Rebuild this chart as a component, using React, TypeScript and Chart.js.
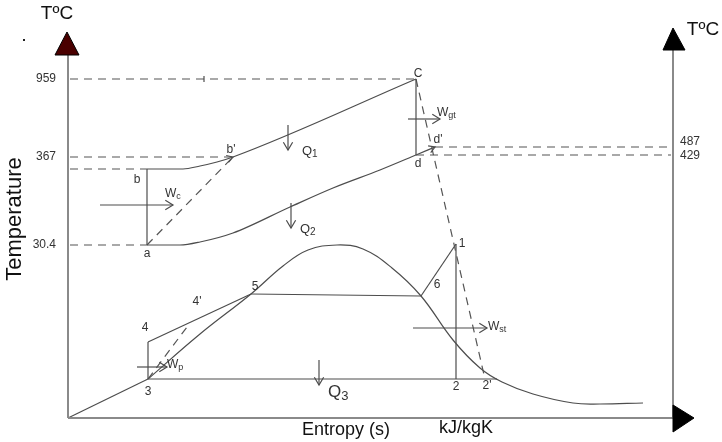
import { useEffect, useRef } from 'react';
import { Chart, registerables } from 'chart.js';

Chart.register(...registerables);

type Pt = [number, number];

const FONT = "Arial, 'Liberation Sans', sans-serif";
const LINE = '#4d4d4d';
const AXIS = '#8a8a8a';

// Schematic s–T plane (entropy across, temperature up)
const S_MIN = -6.8;
const S_MAX = 65.4;
const T_MIN = -2.4;
const T_MAX = 41.8;

// Frame: left and right temperature axes, entropy axis
const leftAxis: Pt[] = [[0, 0], [0, 36.3]];
const rightAxis: Pt[] = [[60.5, 0], [60.5, 36.8]];
const entropyAxis: Pt[] = [[0, 0], [60.5, 0]];
const leftAxisHead: Pt[] = [[-0.1, 38.6], [-1.3, 36.3], [1.1, 36.3]];
const rightAxisHead: Pt[] = [[60.5, 39.0], [59.5, 36.8], [61.7, 36.8]];
const entropyAxisHead: Pt[] = [[60.5, 1.3], [60.5, -1.4], [62.6, 0]];

// Gas turbine (Brayton) cycle a-b-C-d
const gasHeatAddition: Pt[] = [[7.9, 24.9], [11.5, 24.9], [13.2, 25.2], [14.9, 25.6], [16.5, 26.1], [34.8, 33.9]];
const gasHeatRejection: Pt[] = [[7.9, 17.3], [11.2, 17.3], [13.2, 17.6], [16.5, 18.5], [22.2, 21.1], [26.5, 23.0], [31.2, 24.8], [34.8, 26.3], [36.7, 27.1]];
const gasCompression: Pt[] = [[7.9, 17.3], [7.9, 24.9]];
const gasExpansion: Pt[] = [[34.8, 33.9], [34.8, 26.3]];
const gasRealCompression: Pt[] = [[7.9, 17.3], [16.5, 26.1]];
const realExpansionLine: Pt[] = [[34.8, 33.9], [41.7, 3.9]];

// Steam (Rankine) cycle 1-2-3-4-5-6 and the saturation dome
const liquidLine: Pt[] = [[0, 0], [8.0, 3.9]];
const saturationDome: Pt[] = [[8.0, 3.9], [13.2, 8.4], [18.3, 12.4], [21.5, 15.2], [24.0, 16.8], [26.9, 17.3], [29.5, 16.9], [32.4, 15.0], [35.3, 12.2], [38.5, 7.8], [41.2, 5.0], [43.4, 3.6], [46.5, 2.4], [50.5, 1.5], [53.2, 1.4], [57.5, 1.5]];
const condensation: Pt[] = [[8.0, 3.9], [42.9, 3.9]];
const pumping: Pt[] = [[8.0, 3.9], [8.0, 7.6]];
const feedHeating: Pt[] = [[8.0, 7.6], [18.3, 12.4]];
const evaporation: Pt[] = [[18.3, 12.4], [35.3, 12.2]];
const superheating: Pt[] = [[35.3, 12.2], [38.8, 17.4]];
const steamExpansion: Pt[] = [[38.8, 17.4], [38.8, 3.9]];
const realPumping: Pt[] = [[8.0, 3.9], [12.2, 9.5]];

// Temperature guide lines and their tick labels
const leftTickLabels = ['959', '367', '30.4'];
const leftTickValues = [33.9, 26.1, 17.3];
const leftGuideEnds = [34.8, 16.5, 7.9];
const extraGuideT = 24.9;
const extraGuideEnd = 7.9;
const rightTickLabels = ['487', '429'];
const rightTickValues = [27.1, 26.3];
const rightGuideStarts = [36.7, 34.8];

// Work and heat arrows
const arrows: { from: Pt; to: Pt }[] = [
  { from: [3.2, 21.3], to: [10.5, 21.3] },   // Wc
  { from: [34.0, 29.9], to: [37.2, 29.9] },  // Wgt
  { from: [6.9, 5.1], to: [9.9, 5.1] },      // Wp
  { from: [34.5, 9.0], to: [41.9, 9.0] },    // Wst
  { from: [22.0, 29.3], to: [22.0, 26.8] },  // Q1
  { from: [22.3, 21.5], to: [22.3, 19.0] },  // Q2
  { from: [25.1, 5.8], to: [25.1, 3.3] },    // Q3
];
const curveHeads: { from: Pt; to: Pt }[] = [
  { from: [15.0, 25.6], to: [16.5, 26.1] },
  { from: [35.4, 26.6], to: [36.7, 27.1] },
];

const stateLabels: { text: string; s: number; T: number }[] = [
  { text: 'a', s: 7.9, T: 16.4 },
  { text: 'b', s: 6.9, T: 23.8 },
  { text: "b'", s: 16.3, T: 26.8 },
  { text: 'C', s: 35.0, T: 34.4 },
  { text: 'd', s: 35.0, T: 25.4 },
  { text: "d'", s: 37.0, T: 27.8 },
  { text: '1', s: 39.4, T: 17.4 },
  { text: '2', s: 38.8, T: 3.1 },
  { text: "2'", s: 41.9, T: 3.2 },
  { text: '3', s: 8.0, T: 2.6 },
  { text: '4', s: 7.7, T: 9.0 },
  { text: "4'", s: 12.9, T: 11.6 },
  { text: '5', s: 18.7, T: 13.1 },
  { text: '6', s: 36.9, T: 13.3 },
];

const subLabels: { main: string; sub: string; s: number; T: number; size: number }[] = [
  { main: 'W', sub: 'c', s: 9.7, T: 22.4, size: 12 },
  { main: 'W', sub: 'gt', s: 36.9, T: 30.5, size: 12 },
  { main: 'W', sub: 'p', s: 9.9, T: 5.3, size: 12 },
  { main: 'W', sub: 'st', s: 42.0, T: 9.1, size: 12 },
  { main: 'Q', sub: '1', s: 23.4, T: 26.7, size: 13 },
  { main: 'Q', sub: '2', s: 23.2, T: 18.9, size: 13 },
  { main: 'Q', sub: '3', s: 26.0, T: 2.6, size: 17 },
];

const toXY = (pts: Pt[]) => pts.map(([x, y]) => ({ x, y }));

type Shape = 'straight' | 'monotone' | 'smooth';

const solid = (pts: Pt[], shape: Shape = 'straight', color = LINE, width = 1.2) => ({
  data: toXY(pts),
  showLine: true,
  borderColor: color,
  borderWidth: width,
  pointRadius: 0,
  cubicInterpolationMode: shape === 'monotone' ? ('monotone' as const) : ('default' as const),
  tension: shape === 'smooth' ? 0.4 : 0,
  fill: false,
});

const dashed = (pts: Pt[]) => ({ ...solid(pts, 'straight', '#555', 1.2), borderDash: [8, 6] });

const diagramPlugin = {
  id: 'tsDiagram',
  afterDatasetsDraw(chart: any) {
    const { ctx } = chart;
    const xs = chart.scales.x;
    const ys = chart.scales.y;
    const px = (s: number) => xs.getPixelForValue(s);
    const py = (t: number) => ys.getPixelForValue(t);
    ctx.save();

    const tri = (pts: Pt[], fillColor: string) => {
      ctx.beginPath();
      pts.forEach(([s, t], i) => (i ? ctx.lineTo(px(s), py(t)) : ctx.moveTo(px(s), py(t))));
      ctx.closePath();
      ctx.fillStyle = fillColor;
      ctx.fill();
      ctx.strokeStyle = '#000';
      ctx.lineWidth = 1;
      ctx.stroke();
    };
    tri(leftAxisHead, '#4a0000');
    tri(rightAxisHead, '#000');
    tri(entropyAxisHead, '#000');

    const head = (a: Pt, b: Pt, len: number) => {
      const x1 = px(a[0]), y1 = py(a[1]), x2 = px(b[0]), y2 = py(b[1]);
      const ang = Math.atan2(y2 - y1, x2 - x1);
      ctx.beginPath();
      ctx.moveTo(x2 + len * Math.cos(ang + 2.6), y2 + len * Math.sin(ang + 2.6));
      ctx.lineTo(x2, y2);
      ctx.lineTo(x2 + len * Math.cos(ang - 2.6), y2 + len * Math.sin(ang - 2.6));
      ctx.stroke();
    };
    ctx.strokeStyle = LINE;
    ctx.lineWidth = 1.2;
    arrows.forEach(({ from, to }) => {
      ctx.beginPath();
      ctx.moveTo(px(from[0]), py(from[1]));
      ctx.lineTo(px(to[0]), py(to[1]));
      ctx.stroke();
      head(from, to, 9);
    });
    curveHeads.forEach(({ from, to }) => head(from, to, 7));

    // small tick on the 959 guide
    ctx.beginPath();
    ctx.moveTo(px(13.6), py(33.9) - 3);
    ctx.lineTo(px(13.6), py(33.9) + 3);
    ctx.stroke();

    // marker dot near the left axis title
    ctx.fillStyle = '#222';
    ctx.fillRect(px(-4.4) - 1, py(37.8) - 1, 2, 2);

    ctx.textBaseline = 'middle';
    ctx.fillStyle = '#333';
    ctx.font = `12px ${FONT}`;
    ctx.textAlign = 'right';
    leftTickLabels.forEach((l, i) => ctx.fillText(l, px(-1.2), py(leftTickValues[i])));
    ctx.textAlign = 'left';
    ctx.fillText(rightTickLabels[0], px(61.2), py(rightTickValues[0]) - 5);
    ctx.fillText(rightTickLabels[1], px(61.2), py(rightTickValues[1]) + 1);

    ctx.textAlign = 'center';
    stateLabels.forEach(({ text, s, T }) => ctx.fillText(text, px(s), py(T)));

    subLabels.forEach(({ main, sub, s, T, size }) => {
      ctx.textAlign = 'left';
      ctx.font = `${size}px ${FONT}`;
      const x = px(s), y = py(T);
      ctx.fillText(main, x, y);
      const w = ctx.measureText(main).width;
      ctx.font = `${Math.round(size * 0.75)}px ${FONT}`;
      ctx.fillText(sub, x + w, y + size * 0.25);
    });

    ctx.fillStyle = '#111';
    ctx.textAlign = 'center';
    ctx.font = `19px ${FONT}`;
    ctx.fillText('TºC', px(-1.1), py(40.4));
    ctx.fillText('TºC', px(63.5), py(38.8));
    ctx.font = `18px ${FONT}`;
    ctx.fillText('Entropy (s)', px(27.8), py(-1.2));
    ctx.fillText('kJ/kgK', px(39.8), py(-1.0));

    ctx.save();
    ctx.translate(px(-5.3), py(19.9));
    ctx.rotate(-Math.PI / 2);
    ctx.font = `22px ${FONT}`;
    ctx.fillText('Temperature', 0, 0);
    ctx.restore();

    ctx.restore();
  },
};

export default function App() {
  const canvasRef = useRef<HTMLCanvasElement>(null);

  useEffect(() => {
    document.body.style.margin = '0';
    const canvas = canvasRef.current;
    if (!canvas) return;

    const datasets: any[] = [
      solid(leftAxis, 'straight', AXIS, 2),
      solid(rightAxis, 'straight', AXIS, 2),
      solid(entropyAxis, 'straight', AXIS, 2),
      ...leftTickValues.map((t, i) => dashed([[0.2, t], [leftGuideEnds[i], t]])),
      dashed([[0.2, extraGuideT], [extraGuideEnd, extraGuideT]]),
      ...rightTickValues.map((t, i) => dashed([[rightGuideStarts[i], t], [60.3, t]])),
      solid(gasHeatAddition, 'monotone'),
      solid(gasHeatRejection, 'monotone'),
      solid(gasCompression),
      solid(gasExpansion),
      dashed(gasRealCompression),
      dashed(realExpansionLine),
      solid(liquidLine),
      solid(saturationDome, 'smooth'),
      solid(condensation),
      solid(pumping),
      solid(feedHeating),
      solid(evaporation),
      solid(superheating),
      solid(steamExpansion),
      dashed(realPumping),
    ];

    const chart = new Chart(canvas, {
      type: 'scatter',
      data: { datasets },
      options: {
        animation: false,
        responsive: false,
        devicePixelRatio: 1,
        layout: { padding: 0 },
        plugins: { legend: { display: false }, tooltip: { enabled: false } },
        scales: {
          x: { type: 'linear', min: S_MIN, max: S_MAX, display: false },
          y: { type: 'linear', min: T_MIN, max: T_MAX, display: false },
        },
      },
      plugins: [diagramPlugin],
    });
    return () => chart.destroy();
  }, []);

  return (
    <div style={{ position: 'absolute', left: 0, top: 0, width: 722, height: 442, background: '#fff' }}>
      <canvas ref={canvasRef} width={722} height={442} />
    </div>
  );
}
